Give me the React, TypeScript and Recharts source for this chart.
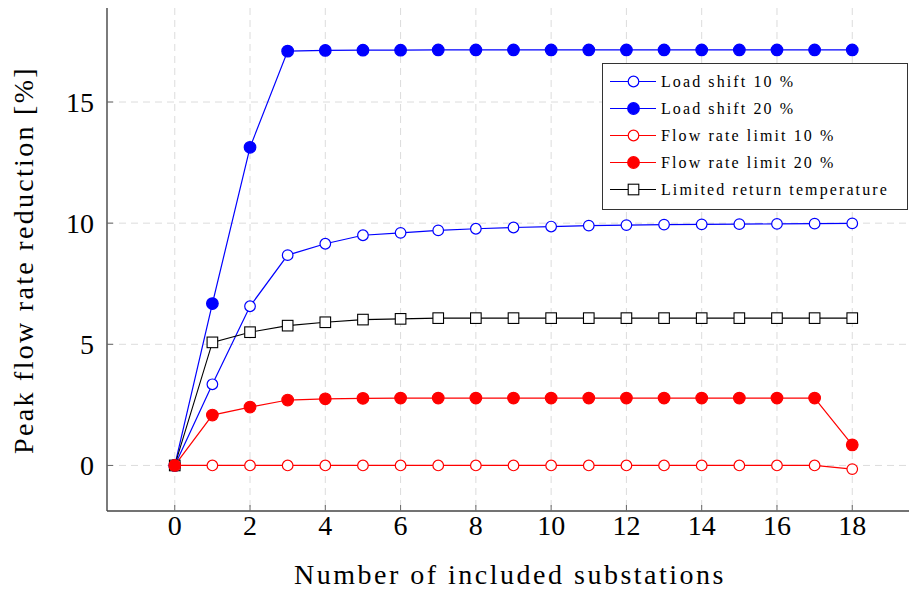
import React from 'react';
import { CartesianGrid, Label, Line, LineChart, XAxis, YAxis } from 'recharts';

const substations = [0, 1, 2, 3, 4, 5, 6, 7, 8, 9, 10, 11, 12, 13, 14, 15, 16, 17, 18];
const loadShift10 = [0, 3.35, 6.57, 8.68, 9.15, 9.5, 9.6, 9.7, 9.77, 9.82, 9.86, 9.9, 9.92, 9.94, 9.95, 9.96, 9.97, 9.98, 9.99];
const loadShift20 = [0, 6.68, 13.13, 17.1, 17.13, 17.14, 17.14, 17.15, 17.15, 17.15, 17.15, 17.15, 17.15, 17.15, 17.15, 17.15, 17.15, 17.15, 17.15];
const flowLimit10 = [0, 0, 0, 0, 0, 0, 0, 0, 0, 0, 0, 0, 0, 0, 0, 0, 0, 0, -0.15];
const flowLimit20 = [0, 2.08, 2.41, 2.7, 2.75, 2.77, 2.78, 2.78, 2.78, 2.78, 2.78, 2.78, 2.78, 2.78, 2.78, 2.78, 2.78, 2.78, 0.85];
const limitedReturn = [0, 5.08, 5.5, 5.77, 5.91, 6.02, 6.05, 6.08, 6.08, 6.08, 6.08, 6.08, 6.08, 6.08, 6.08, 6.08, 6.08, 6.08, 6.08];

const xTicks = [0, 2, 4, 6, 8, 10, 12, 14, 16, 18];
const yTicks = [0, 5, 10, 15];

const legendItems = [
  { name: 'Load shift 10 %', color: '#0000ff', mark: 'open' },
  { name: 'Load shift 20 %', color: '#0000ff', mark: 'filled' },
  { name: 'Flow rate limit 10 %', color: '#ff0000', mark: 'open' },
  { name: 'Flow rate limit 20 %', color: '#ff0000', mark: 'filled' },
  { name: 'Limited return temperature', color: '#000000', mark: 'square' },
];

const data = substations.map((n, i) => ({
  n,
  ls10: loadShift10[i],
  ls20: loadShift20[i],
  fl10: flowLimit10[i],
  fl20: flowLimit20[i],
  lrt: limitedReturn[i],
}));

const FONT = '"Liberation Serif", "DejaVu Serif", serif';

const circleDot = (color: string, filled: boolean) => (props: any) => (
  <circle
    key={`c-${props.index}`}
    cx={props.cx}
    cy={props.cy}
    r={filled ? 5.8 : 5.3}
    fill={filled ? color : '#fff'}
    stroke={color}
    strokeWidth={1.2}
  />
);

const squareDot = (props: any) => (
  <rect
    key={`s-${props.index}`}
    x={props.cx - 5.3}
    y={props.cy - 5.3}
    width={10.6}
    height={10.6}
    fill="#fff"
    stroke="#000"
    strokeWidth={1.1}
  />
);

const XTick = (props: any) => (
  <text x={props.x} y={props.y + 28} textAnchor="middle" fontFamily={FONT} fontSize={28} fill="#000">
    {props.payload.value}
  </text>
);

const YTick = (props: any) => (
  <text x={props.x - 17} y={props.y + 10} textAnchor="end" fontFamily={FONT} fontSize={28} fill="#000">
    {props.payload.value}
  </text>
);

const NoTick = () => <g />;

function LegendBox() {
  return (
    <div
      style={{
        position: 'absolute',
        left: 602,
        top: 63,
        width: 306,
        height: 147,
        boxSizing: 'border-box',
        border: '1.4px solid #333',
        background: '#fff',
        paddingTop: 4,
        fontFamily: FONT,
        fontSize: 16,
        letterSpacing: 2.1,
      }}
    >
      {legendItems.map((it) => (
        <div key={it.name} style={{ display: 'flex', alignItems: 'center', height: 27 }}>
          <svg width={58} height={27} style={{ flex: 'none' }}>
            <line x1={7} y1={13.5} x2={53} y2={13.5} stroke={it.color} strokeWidth={1.2} />
            {it.mark === 'square' ? (
              <rect x={25.2} y={8.2} width={10.6} height={10.6} fill="#fff" stroke="#000" strokeWidth={1.1} />
            ) : (
              <circle
                cx={30.5}
                cy={13.5}
                r={it.mark === 'filled' ? 5.8 : 5.3}
                fill={it.mark === 'filled' ? it.color : '#fff'}
                stroke={it.color}
                strokeWidth={1.2}
              />
            )}
          </svg>
          <span style={{ color: '#000', whiteSpace: 'nowrap' }}>{it.name}</span>
        </div>
      ))}
    </div>
  );
}

export default function App() {
  return (
    <div style={{ position: 'absolute', left: 0, top: 0, width: 909, height: 590, overflow: 'hidden', background: '#fff' }}>
      <LineChart width={930} height={590} data={data} margin={{ top: 8, right: 10, bottom: 0, left: 0 }}>
        <CartesianGrid stroke="#dcdcdc" strokeDasharray="7 5" horizontalValues={yTicks} verticalValues={xTicks} />
        <XAxis
          dataKey="n"
          type="number"
          domain={[-1.8, 19.8]}
          ticks={xTicks}
          interval={0}
          height={79}
          stroke="#444"
          strokeWidth={1.4}
          tickSize={-6}
          tickLine={{ stroke: '#666', strokeWidth: 1 }}
          tick={<XTick />}
        >
          <Label
            content={() => (
              <text x={510} y={584} textAnchor="middle" fontFamily={FONT} fontSize={28} letterSpacing={2.5} fill="#000">
                Number of included substations
              </text>
            )}
          />
        </XAxis>
        <XAxis
          xAxisId="top"
          dataKey="n"
          type="number"
          orientation="top"
          domain={[-1.8, 19.8]}
          ticks={xTicks}
          interval={0}
          height={0}
          stroke="#444"
          strokeWidth={1.4}
          tickSize={-6}
          tickLine={{ stroke: '#666', strokeWidth: 1 }}
          tick={NoTick}
        />
        <YAxis
          type="number"
          domain={[-1.88, 18.88]}
          ticks={yTicks}
          interval={0}
          width={107}
          stroke="#444"
          strokeWidth={1.4}
          tickSize={-6}
          tickLine={{ stroke: '#666', strokeWidth: 1 }}
          tick={<YTick />}
        >
          <Label
            content={() => (
              <text
                x={33}
                y={260}
                transform="rotate(-90 33 260)"
                textAnchor="middle"
                fontFamily={FONT}
                fontSize={28}
                letterSpacing={2.3}
                fill="#000"
              >
                Peak flow rate reduction [%]
              </text>
            )}
          />
        </YAxis>
        <Line dataKey="ls10" stroke="#0000ff" strokeWidth={1.2} dot={circleDot('#0000ff', false)} isAnimationActive={false} />
        <Line dataKey="ls20" stroke="#0000ff" strokeWidth={1.2} dot={circleDot('#0000ff', true)} isAnimationActive={false} />
        <Line dataKey="fl10" stroke="#ff0000" strokeWidth={1.2} dot={circleDot('#ff0000', false)} isAnimationActive={false} />
        <Line dataKey="lrt" stroke="#000000" strokeWidth={1.1} dot={squareDot} isAnimationActive={false} />
        <Line dataKey="fl20" stroke="#ff0000" strokeWidth={1.2} dot={circleDot('#ff0000', true)} isAnimationActive={false} />
      </LineChart>
      <LegendBox />
    </div>
  );
}
